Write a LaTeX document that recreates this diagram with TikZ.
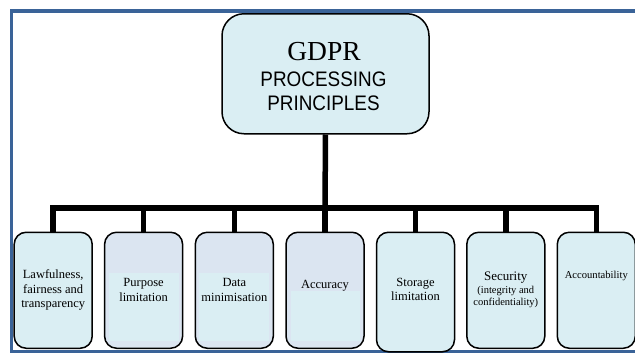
\documentclass[tikz,border=0pt]{standalone}
\usepackage{fontspec}
\setmainfont{Liberation Serif}
\newfontfamily\headsans[FakeStretch=0.9]{Liberation Sans}
\definecolor{framebl}{RGB}{58,99,152}
\definecolor{boxfill}{RGB}{218,238,243}
\definecolor{boxlav}{RGB}{219,229,241}
\tikzset{
  principle/.style={draw=black, line width=1.5pt, rounded corners=12pt,
    minimum width=78pt, minimum height=116pt, anchor=north, inner sep=0pt},
  principletext/.style={align=center, inner sep=0pt,
    font=\fontsize{12.5}{14.5}\selectfont},
  bus/.style={line width=5.5pt, draw=black},
  softpatch/.style={fill=boxfill, draw=none}
}
\begin{document}
\begin{tikzpicture}[x=1pt,y=-1pt]
\useasboundingbox (0,0) rectangle (635,357);

% outer frame (open towards the right edge)
\draw[framebl, line width=3.6pt] (645,11.2) -- (11.6,11.2) -- (11.6,351.6) -- (645,351.6);

% heading box
\node[draw=black, line width=1.5pt, rounded corners=22pt, fill=boxfill,
      minimum width=207pt, minimum height=120pt, anchor=north, inner sep=0pt]
      (top) at (325.5,13) {};
\node[anchor=base, inner sep=0pt, font=\fontsize{27.5}{30}\selectfont] (gdpr) at (324,60) {GDPR};
\node[anchor=base, inner sep=0pt, font=\headsans\fontsize{21}{23}\selectfont] (proc) at (323.5,86.7) {PROCESSING};
\node[anchor=base, inner sep=0pt, font=\headsans\fontsize{21}{23}\selectfont] (princ) at (323.5,110) {PRINCIPLES};

% principle boxes
\node[principle, fill=boxfill] (b1) at (53.2,231.5) {};
\node[principle, fill=boxlav]  (b2) at (143.6,231.5) {};
\node[principle, fill=boxlav]  (b3) at (234.3,231.5) {};
\node[principle, fill=boxlav]  (b4) at (325,231.5) {};
\node[principle, fill=boxfill, minimum height=119.5pt] (b5) at (415.5,231.5) {};
\node[principle, fill=boxfill] (b6) at (505.8,231.5) {};
\node[principle, fill=boxfill] (b7) at (596.3,231.5) {};

% lighter text areas inside the middle boxes
\fill[softpatch] (108.5,273) rectangle (178.5,341);
\fill[softpatch] (199.3,273) rectangle (269.3,341);
\fill[softpatch] (290.5,291) rectangle (360,341);

% box labels
\node[principletext] (t1) at (53.2,290) {Lawfulness,\\fairness and\\transparency};
\node[principletext] (t2) at (143.6,290) {Purpose\\limitation};
\node[principletext] (t3) at (234.3,290) {Data\\minimisation};
\node[principletext] (t4) at (325,286) {Accuracy};
\node[principletext] (t5) at (415.5,289.5) {Storage\\limitation};
\node[anchor=base, inner sep=0pt, font=\fontsize{13}{15}\selectfont] (t6a) at (505.8,280) {Security};
\node[anchor=base, inner sep=0pt, align=center, font=\fontsize{10.5}{12}\selectfont] (t6b) at (505.8,293) {(integrity and};
\node[anchor=base, inner sep=0pt, align=center, font=\fontsize{10.5}{12}\selectfont] (t6c) at (505.8,305) {confidentiality)};
\node[anchor=base, inner sep=0pt, font=\fontsize{10.6}{12}\selectfont] (t7) at (596.3,278) {Accountability};

% connectors
\coordinate (hub) at (325,208);
\draw[bus] (top.south) -- (hub);
\foreach \b in {b1,b2,b3,b4,b5,b6,b7}
  \draw[bus] (hub) -| (\b.north);
\end{tikzpicture}
\end{document}
